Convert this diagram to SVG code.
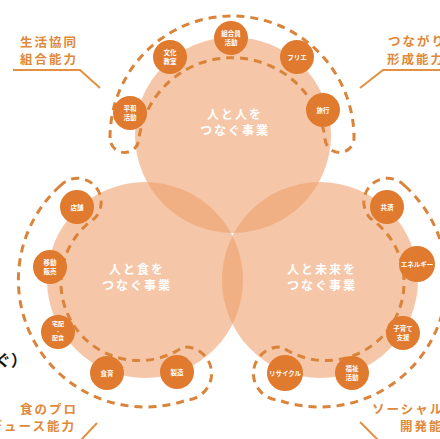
<svg xmlns="http://www.w3.org/2000/svg" width="440" height="439" viewBox="0 0 440 439">
<style>
.big{fill:#EEA06D;fill-opacity:0.6}
.band{fill:none;stroke:#D9843A;stroke-width:3;stroke-dasharray:8 6}
.node circle{fill:#E07A2E}
.nt{font-family:"Noto Sans CJK JP","Noto Sans",sans-serif;font-size:6.5px;font-weight:bold;fill:#fff;text-anchor:middle}
.ct{font-family:"Noto Sans CJK JP","Noto Sans",sans-serif;font-size:12px;font-weight:bold;fill:#fff;text-anchor:middle;letter-spacing:2px}
.lb{font-family:"Noto Sans CJK JP","Noto Sans",sans-serif;font-size:12.5px;font-weight:bold;fill:#E0893A;letter-spacing:2px}
.ln{fill:none;stroke:#E39040;stroke-width:2}
</style>
<rect width="440" height="439" fill="#fff"/>
<g id="circles">
<circle class="big" cx="233" cy="135" r="98"/>
<circle class="big" cx="145" cy="280" r="98"/>
<circle class="big" cx="320" cy="280" r="98"/>
<text class="ct" x="235" y="119">人と人を</text>
<text class="ct" x="235" y="135">つなぐ事業</text>
<text class="ct" x="137" y="274">人と食を</text>
<text class="ct" x="137" y="290">つなぐ事業</text>
<text class="ct" x="322" y="274">人と未来を</text>
<text class="ct" x="322" y="290">つなぐ事業</text>
</g>
<g id="connectors">
<path class="band" d="M110,138 A122,122 0 1 1 354,138 A14.5,14.5 0 0 1 325,138 A94,94 0 0 0 139,138 A14.5,14.5 0 0 1 110,138 Z"/>
<path id="blband" class="band" d="M60,186 A127,127 0 0 0 187,400 A26.5,26.5 0 0 0 183,347 A78,78 0 0 1 95,218 A23,23 0 0 0 60,186 Z"/>
<use href="#blband" transform="translate(465,0) scale(-1,1)"/>
<polyline class="ln" points="13,70 80,70 100,88"/>
<polyline class="ln" points="360,88 383,70 440,70"/>
<line class="ln" x1="97" y1="423" x2="81" y2="440"/>
<line class="ln" x1="360" y1="422" x2="378" y2="440"/>
</g>
<g id="labels">
<text class="lb" x="20" y="47">生活協同</text>
<text class="lb" x="20" y="64">組合能力</text>
<text class="lb" x="388" y="46">つながり</text>
<text class="lb" x="387" y="64">形成能力</text>
<text class="lb" x="78" y="414" text-anchor="end">食のプロ</text>
<text class="lb" x="76" y="431" text-anchor="end">デュース能力</text>
<text class="lb" x="372" y="414">ソーシャル</text>
<text class="lb" x="400" y="431">開発能力</text>
<text x="27" y="366" text-anchor="end" style="font-family:'Noto Sans CJK JP',sans-serif;font-size:16px;font-weight:bold;fill:#111">ぐ）</text>
</g>
<g id="n1" class="node"><circle cx="130" cy="113" r="17"/><text class="nt" x="130" y="111">平和</text><text class="nt" x="130" y="120">活動</text></g>
<g id="n2" class="node"><circle cx="170" cy="57" r="17"/><text class="nt" x="170" y="55">文化</text><text class="nt" x="170" y="64">教室</text></g>
<g id="n3" class="node"><circle cx="231" cy="38" r="17"/><text class="nt" x="231" y="36">組合員</text><text class="nt" x="231" y="45">活動</text></g>
<g id="n4" class="node"><circle cx="297" cy="57" r="17"/><text class="nt" x="297" y="59.5">フリエ</text></g>
<g id="n5" class="node"><circle cx="323" cy="110" r="17"/><text class="nt" x="323" y="112.5">旅行</text></g>
<g id="n6" class="node"><circle cx="77" cy="207" r="17"/><text class="nt" x="77" y="209.5">店舗</text></g>
<g id="n7" class="node"><circle cx="50" cy="267" r="17"/><text class="nt" x="50" y="265">移動</text><text class="nt" x="50" y="274">販売</text></g>
<g id="n8" class="node"><circle cx="58" cy="332" r="17"/><text class="nt" x="58" y="326" style="font-size:6px">宅配</text><text class="nt" x="58" y="333" style="font-size:5px">・</text><text class="nt" x="58" y="340" style="font-size:6px">配食</text></g>
<g id="n9" class="node"><circle cx="107" cy="373" r="17"/><text class="nt" x="107" y="375.5">食育</text></g>
<g id="n10" class="node"><circle cx="177" cy="372" r="17"/><text class="nt" x="177" y="374.5">製造</text></g>
<g id="n11" class="node"><circle cx="387" cy="207" r="17"/><text class="nt" x="387" y="209.5">共済</text></g>
<g id="n12" class="node"><circle cx="417" cy="264" r="18"/><text class="nt" x="417" y="266.5">エネルギー</text></g>
<g id="n13" class="node"><circle cx="403" cy="333" r="17"/><text class="nt" x="403" y="331">子育て</text><text class="nt" x="403" y="340">支援</text></g>
<g id="n14" class="node"><circle cx="352" cy="373" r="17"/><text class="nt" x="352" y="371">福祉</text><text class="nt" x="352" y="380">活動</text></g>
<g id="n15" class="node"><circle cx="285" cy="373" r="18"/><text class="nt" x="285" y="375.5">リサイクル</text></g>
</svg>
